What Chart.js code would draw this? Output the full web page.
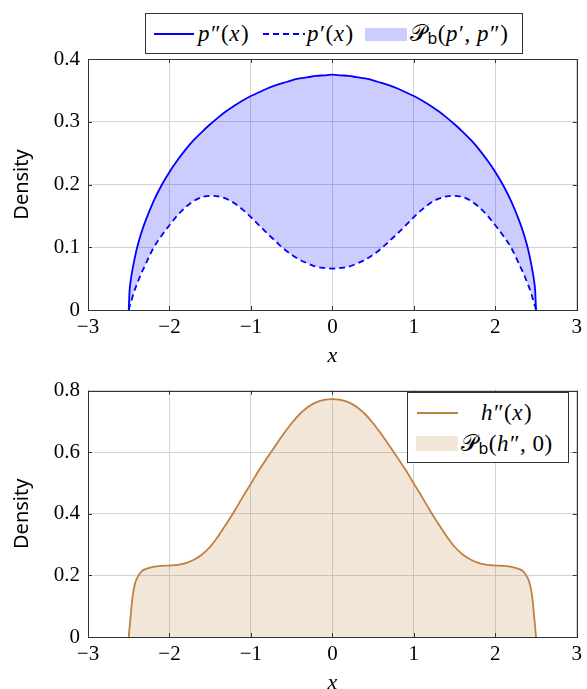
<!DOCTYPE html>
<html>
<head>
<meta charset="utf-8">
<script src="https://cdn.jsdelivr.net/npm/chart.js@4.4.0/dist/chart.umd.min.js"></script>
<style>
  body { margin: 0; background: #fff; }
  #wrap { position: relative; width: 587px; height: 689px; overflow: hidden; }
  canvas { position: absolute; left: 0; }
  .legend { position: absolute; border: 1px solid #333; background: #fff; box-sizing: border-box;
            font-family: "Liberation Serif", "DejaVu Serif", serif; font-size: 23px; color: #000; }
  .legend span.t { position: absolute; white-space: nowrap; letter-spacing: 0.5px; }
  .legend .ln { position: absolute; height: 2px; }
  .legend .sw { position: absolute; }
  .legend i { padding-right: 1px; }
  sub.b { font-family: "Noto Sans", "DejaVu Sans", sans-serif; font-style: normal; font-size: 16px; vertical-align: -3px; line-height: 0; }
</style>
</head>
<body>
<div id="wrap">
  <canvas id="top" width="587" height="370" style="top:0"></canvas>
  <canvas id="bottom" width="587" height="319" style="top:370px"></canvas>

  <div class="legend" style="left:145px; top:13px; width:378px; height:41px;">
    <div class="ln" style="left:8px; top:19px; width:40px; background:#0000ff;"></div>
    <span class="t" style="left:52px; top:0; line-height:40px;"><i>p</i>″(<i>x</i>)</span>
    <div class="ln" style="left:117px; top:19px; width:42px; background:repeating-linear-gradient(to right, #0000ff 0 6px, transparent 6px 10px);"></div>
    <span class="t" style="left:161px; top:0; line-height:40px;"><i>p</i>′(<i>x</i>)</span>
    <div class="sw" style="left:219px; top:14px; width:42px; height:13px; background:rgba(0,0,255,0.2);"></div>
    <span class="t" style="left:264px; top:0; line-height:40px;">𝒫<sub class="b">b</sub>(<i>p</i>′, <i>p</i>″)</span>
  </div>

  <div class="legend" style="left:407px; top:392px; width:162px; height:71px;">
    <div class="ln" style="left:9px; top:19px; width:41px; background:rgb(191,128,64);"></div>
    <span class="t" style="left:73px; top:4px; line-height:32px;"><i>h</i>″(<i>x</i>)</span>
    <div class="sw" style="left:8px; top:43px; width:42px; height:15px; background:rgba(191,128,64,0.2);"></div>
    <span class="t" style="left:53px; top:35px; line-height:32px;">𝒫<sub class="b">b</sub>(<i>h</i>″, 0)</span>
  </div>
</div>

<script>
// values (symmetric curves, written out in full)
const xsTop = [-2.5, -2.49, -2.48, -2.46, -2.44, -2.4, -2.35, -2.3, -2.2, -2.1, -2.0, -1.9, -1.8, -1.7, -1.6, -1.5, -1.4, -1.3, -1.2, -1.1, -1.0, -0.9, -0.8, -0.7, -0.6, -0.5, -0.4, -0.3, -0.2, -0.1,
  0, 0.1, 0.2, 0.3, 0.4, 0.5, 0.6, 0.7, 0.8, 0.9, 1.0, 1.1, 1.2, 1.3, 1.4, 1.5, 1.6, 1.7, 1.8, 1.9, 2.0, 2.1, 2.2, 2.3, 2.35, 2.4, 2.44, 2.46, 2.48, 2.49, 2.5];
const pSecond = [0, 0.030, 0.043, 0.060, 0.074, 0.098, 0.121, 0.140, 0.172, 0.198, 0.220, 0.239, 0.256, 0.271, 0.284, 0.296, 0.307, 0.317, 0.326, 0.334, 0.341, 0.347, 0.353, 0.358, 0.362, 0.366, 0.369, 0.371, 0.373, 0.374,
  0.375, 0.374, 0.373, 0.371, 0.369, 0.366, 0.362, 0.358, 0.353, 0.347, 0.341, 0.334, 0.326, 0.317, 0.307, 0.296, 0.284, 0.271, 0.256, 0.239, 0.220, 0.198, 0.172, 0.140, 0.121, 0.098, 0.074, 0.060, 0.043, 0.030, 0];
const pFirst = [0, 0.005, 0.009, 0.018, 0.027, 0.041, 0.057, 0.071, 0.098, 0.118, 0.135, 0.151, 0.164, 0.174, 0.180, 0.182, 0.181, 0.177, 0.170, 0.160, 0.148, 0.135, 0.122, 0.110, 0.098, 0.088, 0.080, 0.074, 0.069, 0.067,
  0.066, 0.067, 0.069, 0.074, 0.080, 0.088, 0.098, 0.110, 0.122, 0.135, 0.148, 0.160, 0.170, 0.177, 0.181, 0.182, 0.180, 0.174, 0.164, 0.151, 0.135, 0.118, 0.098, 0.071, 0.057, 0.041, 0.027, 0.018, 0.009, 0.005, 0];

const xsBottom = [-2.5, -2.49, -2.48, -2.47, -2.46, -2.44, -2.42, -2.4, -2.35, -2.3, -2.2, -2.1, -2.0, -1.9, -1.8, -1.7, -1.6, -1.5, -1.4, -1.3, -1.2, -1.1, -1.0, -0.9, -0.8, -0.7, -0.6, -0.5, -0.4, -0.3, -0.2, -0.1,
  0, 0.1, 0.2, 0.3, 0.4, 0.5, 0.6, 0.7, 0.8, 0.9, 1.0, 1.1, 1.2, 1.3, 1.4, 1.5, 1.6, 1.7, 1.8, 1.9, 2.0, 2.1, 2.2, 2.3, 2.35, 2.4, 2.42, 2.44, 2.46, 2.47, 2.48, 2.49, 2.5];
const hSecond = [0, 0.030, 0.058, 0.087, 0.115, 0.152, 0.176, 0.190, 0.211, 0.220, 0.228, 0.231, 0.232, 0.234, 0.240, 0.251, 0.268, 0.293, 0.328, 0.368, 0.410, 0.455, 0.498, 0.542, 0.582, 0.621, 0.659, 0.694, 0.724, 0.747, 0.762, 0.770,
  0.772, 0.770, 0.762, 0.747, 0.724, 0.694, 0.659, 0.621, 0.582, 0.542, 0.498, 0.455, 0.410, 0.368, 0.328, 0.293, 0.268, 0.251, 0.240, 0.234, 0.232, 0.231, 0.228, 0.220, 0.211, 0.190, 0.176, 0.152, 0.115, 0.087, 0.058, 0.030, 0];

const xTicks = [-3, -2, -1, 0, 1, 2, 3];

const BLUE = '#0000ff';
const BROWN = 'rgb(191,128,64)';
const serif = '"Liberation Serif", "DejaVu Serif", serif';

function pts(xs, ys) {
  return xs.map((x, i) => ({ x: x, y: ys[i] }));
}

// box round the plot and small inner tick marks, like pgfplots
const framePlugin = {
  id: 'frame',
  afterDraw(chart) {
    const { ctx, chartArea: a, scales } = chart;
    ctx.save();
    ctx.strokeStyle = '#333';
    ctx.lineWidth = 1;
    ctx.beginPath();
    scales.x.ticks.forEach(t => {
      const px = Math.round(scales.x.getPixelForValue(t.value)) + 0.5;
      ctx.moveTo(px, a.bottom); ctx.lineTo(px, a.bottom - 4);
      ctx.moveTo(px, a.top); ctx.lineTo(px, a.top + 4);
    });
    scales.y.ticks.forEach(t => {
      const py = Math.round(scales.y.getPixelForValue(t.value)) + 0.5;
      ctx.moveTo(a.left, py); ctx.lineTo(a.left + 4, py);
      ctx.moveTo(a.right, py); ctx.lineTo(a.right - 4, py);
    });
    ctx.stroke();
    ctx.strokeRect(Math.round(a.left) + 0.5, Math.round(a.top) + 0.5, Math.round(a.width), Math.round(a.height));
    ctx.restore();
  }
};

function makeOptions(yMax, yStep, padTop, xAxisH) {
  return {
    responsive: false,
    animation: false,
    devicePixelRatio: 1,
    layout: { padding: { top: padTop, right: 8, left: 0, bottom: 0 } },
    plugins: { legend: { display: false }, tooltip: { enabled: false } },
    elements: { point: { radius: 0 } },
    scales: {
      x: {
        type: 'linear', min: -3, max: 3,
        afterBuildTicks: s => { s.ticks = xTicks.map(v => ({ value: v })); },
        afterFit: s => { s.height = xAxisH; },
        grid: { color: '#d4d4d4', drawTicks: false },
        border: { display: false },
        ticks: {
          padding: 5, color: '#000', font: { family: serif, size: 21 },
          callback: v => String(v).replace('-', '\u2212')
        },
        title: { display: true, text: 'x', color: '#000', padding: { top: 0, bottom: 0.4 },
                 font: { family: serif, size: 22, style: 'italic', lineHeight: 1.2 } }
      },
      y: {
        min: 0, max: yMax,
        ticks: { stepSize: yStep, padding: 8, color: '#000', font: { family: serif, size: 21 } },
        afterFit: s => { s.width = 88; },
        grid: { color: '#d4d4d4', drawTicks: false },
        border: { display: false },
        title: { display: true, text: 'Density', color: '#000', padding: { top: 10, bottom: 0 },
                 font: { family: '"Noto Sans", "DejaVu Sans", sans-serif', size: 20, lineHeight: 1.2 } }
      }
    }
  };
}

new Chart(document.getElementById('top'), {
  type: 'line',
  data: {
    datasets: [
      {
        label: "p''(x)", data: pts(xsTop, pSecond),
        borderColor: BLUE, borderWidth: 1.8, cubicInterpolationMode: 'monotone',
        fill: '+1', backgroundColor: 'rgba(0,0,255,0.2)'
      },
      {
        label: "p'(x)", data: pts(xsTop, pFirst),
        borderColor: BLUE, borderWidth: 1.8, borderDash: [6, 4], cubicInterpolationMode: 'monotone',
        fill: false
      }
    ]
  },
  options: makeOptions(0.4, 0.1, 59, 60),
  plugins: [framePlugin]
});

const bottomOpts = makeOptions(0.8, 0.2, 16, 52);
bottomOpts.scales.x.title.font.lineHeight = 0.5;

new Chart(document.getElementById('bottom'), {
  type: 'line',
  data: {
    datasets: [
      {
        label: "h''(x)", data: pts(xsBottom, hSecond),
        borderColor: BROWN, borderWidth: 1.8, cubicInterpolationMode: 'monotone',
        fill: 'origin', backgroundColor: 'rgba(191,128,64,0.2)'
      }
    ]
  },
  options: bottomOpts,
  plugins: [framePlugin]
});
</script>
</body>
</html>
